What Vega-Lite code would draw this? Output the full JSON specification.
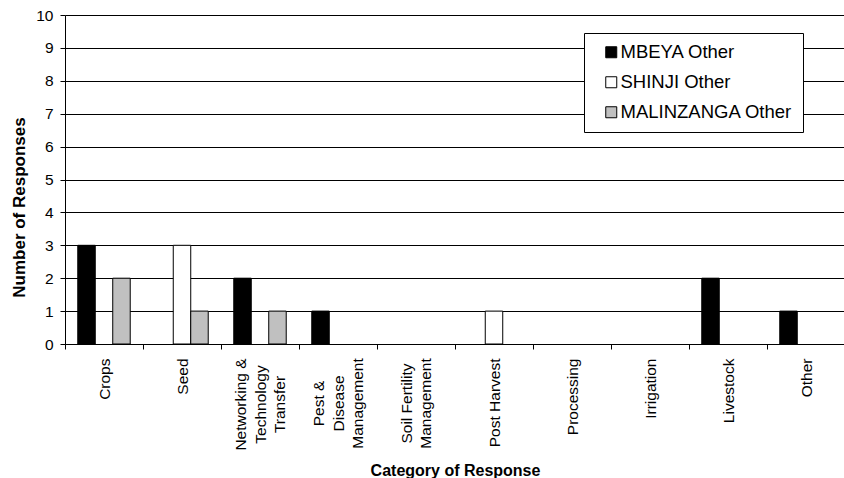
{
  "$schema": "https://vega.github.io/schema/vega-lite/v6.json",
  "autosize": "none",
  "width": 780,
  "height": 329,
  "padding": {"left": 65, "top": 15, "right": 0, "bottom": 134},
  "background": "white",
  "config": {
    "view": {"stroke": null},
    "font": "Liberation Sans"
  },
  "data": {
    "values": [
      {"category": "Crops", "site": "MBEYA Other", "responses": 3},
      {"category": "Crops", "site": "MALINZANGA Other", "responses": 2},
      {"category": "Seed", "site": "SHINJI Other", "responses": 3},
      {"category": "Seed", "site": "MALINZANGA Other", "responses": 1},
      {"category": "Networking & Technology Transfer", "site": "MBEYA Other", "responses": 2},
      {"category": "Networking & Technology Transfer", "site": "MALINZANGA Other", "responses": 1},
      {"category": "Pest & Disease Management", "site": "MBEYA Other", "responses": 1},
      {"category": "Post Harvest", "site": "SHINJI Other", "responses": 1},
      {"category": "Livestock", "site": "MBEYA Other", "responses": 2},
      {"category": "Other", "site": "MBEYA Other", "responses": 1}
    ]
  },
  "mark": {"type": "bar", "stroke": "#000000", "strokeWidth": 1, "strokeOpacity": 1},
  "encoding": {
    "x": {
      "field": "category",
      "type": "nominal",
      "sort": null,
      "scale": {
        "domain": ["Crops", "Seed", "Networking & Technology Transfer", "Pest & Disease Management", "Soil Fertility Management", "Post Harvest", "Processing", "Irrigation", "Livestock", "Other"],
        "paddingInner": 0,
        "paddingOuter": 0
      },
      "axis": {
        "title": "Category of Response",
        "titleFont": "Liberation Sans",
        "titleFontSize": 16,
        "titleFontWeight": "bold",
        "titleColor": "#000000",
        "titleBaseline": "alphabetic",
        "titleY": 131,
        "labelAngle": 270,
        "labelAlign": {"expr": "indexof(['Networking & Technology Transfer', 'Pest & Disease Management', 'Soil Fertility Management'], datum.value) >= 0 ? 'center' : 'right'"},
        "labelBaseline": "middle",
        "labelFont": "Liberation Sans",
        "labelFontSize": 15.5,
        "labelColor": "#000000",
        "labelLineHeight": 19.5,
        "labelPadding": {"expr": "datum.value == 'Networking & Technology Transfer' ? 55 : (datum.value == 'Pest & Disease Management' || datum.value == 'Soil Fertility Management') ? 54 : 9"},
        "labelOffset": {"expr": "(datum.value == 'Networking & Technology Transfer' || datum.value == 'Pest & Disease Management') ? -19.5 : datum.value == 'Soil Fertility Management' ? -9.75 : 0"},
        "labelLimit": 0,
        "labelExpr": "datum.value == 'Networking & Technology Transfer' ? ['Networking &', 'Technology', 'Transfer'] : datum.value == 'Pest & Disease Management' ? ['Pest &', 'Disease', 'Management'] : datum.value == 'Soil Fertility Management' ? ['Soil Fertility', 'Management'] : datum.value",
        "tickBand": "extent",
        "ticks": true,
        "tickSize": 5,
        "tickColor": "#000000",
        "domainColor": "#000000",
        "grid": false
      }
    },
    "xOffset": {
      "field": "site",
      "type": "nominal",
      "scale": {"domain": ["MBEYA Other", "SHINJI Other", "MALINZANGA Other"], "paddingInner": 0, "paddingOuter": 0.73}
    },
    "y": {
      "field": "responses",
      "type": "quantitative",
      "scale": {"domain": [0, 10], "nice": false},
      "axis": {
        "title": "Number of Responses",
        "titleFont": "Liberation Sans",
        "titleFontSize": 17,
        "titleFontWeight": "bold",
        "titleColor": "#000000",
        "titleX": -46,
        "titleY": 192,
        "titleBaseline": "middle",
        "values": [0, 1, 2, 3, 4, 5, 6, 7, 8, 9, 10],
        "labelFont": "Liberation Sans",
        "labelFontSize": 15.5,
        "labelColor": "#000000",
        "labelPadding": 7,
        "tickSize": 5,
        "tickColor": "#000000",
        "domainColor": "#000000",
        "grid": true,
        "gridColor": "#000000",
        "gridWidth": 1
      }
    },
    "fill": {
      "field": "site",
      "type": "nominal",
      "scale": {"domain": ["MBEYA Other", "SHINJI Other", "MALINZANGA Other"], "range": ["#000000", "#ffffff", "#c0c0c0"]},
      "legend": {
        "title": null,
        "orient": "none",
        "legendX": 519,
        "legendY": 18,
        "padding": 10,
        "fillColor": "#ffffff",
        "strokeColor": "#000000",
        "symbolType": "square",
        "symbolSize": 121,
        "symbolStrokeColor": "#000000",
        "symbolStrokeWidth": 1,
        "symbolOpacity": 1,
        "symbolOffset": 8,
        "labelOffset": 0,
        "labelFont": "Liberation Sans",
        "labelFontSize": 18.5,
        "labelColor": "#000000",
        "labelLimit": 0,
        "rowPadding": 11
      }
    }
  }
}
